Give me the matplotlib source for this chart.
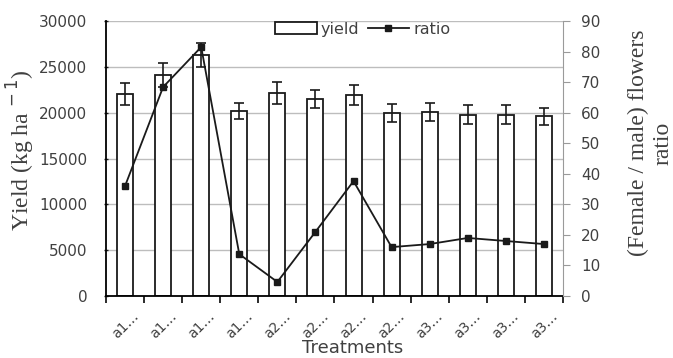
import numpy as np
import matplotlib
matplotlib.use('Agg')
import matplotlib.pyplot as plt

treatments = ['a1…', 'a1…', 'a1…', 'a1…', 'a2…', 'a2…', 'a2…', 'a2…', 'a3…', 'a3…', 'a3…', 'a3…']
yield_vals = [22000, 24100, 26300, 20200, 22100, 21500, 21900, 20000, 20100, 19800, 19800, 19600]
yield_err = [1200, 1300, 1300, 900, 1200, 1000, 1100, 1000, 1000, 1000, 1000, 900]
ratio_vals = [36, 68.4, 81.5, 13.7, 4.6, 21, 37.6, 16, 17, 19, 18, 17]

tick_color = '#404040'
plt.rcParams['font.family'] = ['DejaVu Sans']

fig = plt.figure(figsize=(6.73, 3.58), dpi=100)
ax = fig.add_axes([0.1575, 0.1732, 0.679, 0.768])
x = np.arange(len(treatments))

ax.bar(x, yield_vals, width=0.42, color='white', edgecolor='#1a1a1a', linewidth=1.3,
       yerr=yield_err, error_kw=dict(ecolor='#1a1a1a', elinewidth=1.2, capsize=3.5, capthick=1.2),
       label='yield', zorder=2)
ax.set_ylim(0, 30000)
ax.set_xlim(-0.5, len(treatments) - 0.5)
ax.set_yticks(np.arange(0, 30001, 5000))
ax.yaxis.grid(True, color='#bdbdbd', linewidth=1)
ax.set_axisbelow(True)
ax.set_xticks(x)
ax.set_xticklabels(treatments, rotation=45, ha='center', va='center', rotation_mode='anchor',
                   fontsize=10, color=tick_color)
ax.set_xticks(np.arange(-0.5, len(treatments)), minor=True)
ax.tick_params(axis='x', which='major', length=0, pad=21)
ax.tick_params(axis='x', which='minor', length=5, width=1.3, color='#1a1a1a', direction='out')
ax.tick_params(axis='y', length=3, width=1, direction='inout', color='#1a1a1a',
               labelsize=11, labelcolor=tick_color, pad=12)
for s in ['top', 'right']:
    ax.spines[s].set_visible(False)
ax.spines['left'].set_linewidth(1.3)
ax.spines['bottom'].set_linewidth(1.3)
ax.set_ylabel('Yield (kg ha$^{\\,-1}$)', family='Liberation Serif', fontsize=17, color=tick_color)
ax.yaxis.set_label_coords(-0.15, 0.53)
ax.set_xlabel('Treatments', fontsize=13, color=tick_color)
ax.xaxis.set_label_coords(0.54, -0.155)

ax2 = ax.twinx()
ax2.plot(x, ratio_vals, color='#1a1a1a', linewidth=1.3, marker='s', markersize=5, label='ratio')
ax2.set_ylim(0, 90)
ax2.set_yticks(np.arange(0, 91, 10))
for s in ['top', 'left', 'bottom']:
    ax2.spines[s].set_visible(False)
ax2.spines['right'].set_color('#9a9a9a')
ax2.tick_params(axis='y', length=5, color='#9a9a9a', labelsize=11, labelcolor=tick_color, pad=8)
ax2.set_ylabel('(Female / male) flowers\nratio', family='Liberation Serif', fontsize=17,
               color=tick_color)
ax2.yaxis.set_label_coords(1.142, 0.556)

h1, l1 = ax.get_legend_handles_labels()
h2, l2 = ax2.get_legend_handles_labels()
leg = ax2.legend(h1 + h2, l1 + l2, loc='center', bbox_to_anchor=(0.562, 0.971), ncol=2,
                 frameon=False, fontsize=11.5, handlelength=2.6, handleheight=0.75,
                 columnspacing=0.5, handletextpad=0.25, labelcolor=tick_color,
                 borderpad=0.1)

fig.savefig('out.png', dpi=100)
